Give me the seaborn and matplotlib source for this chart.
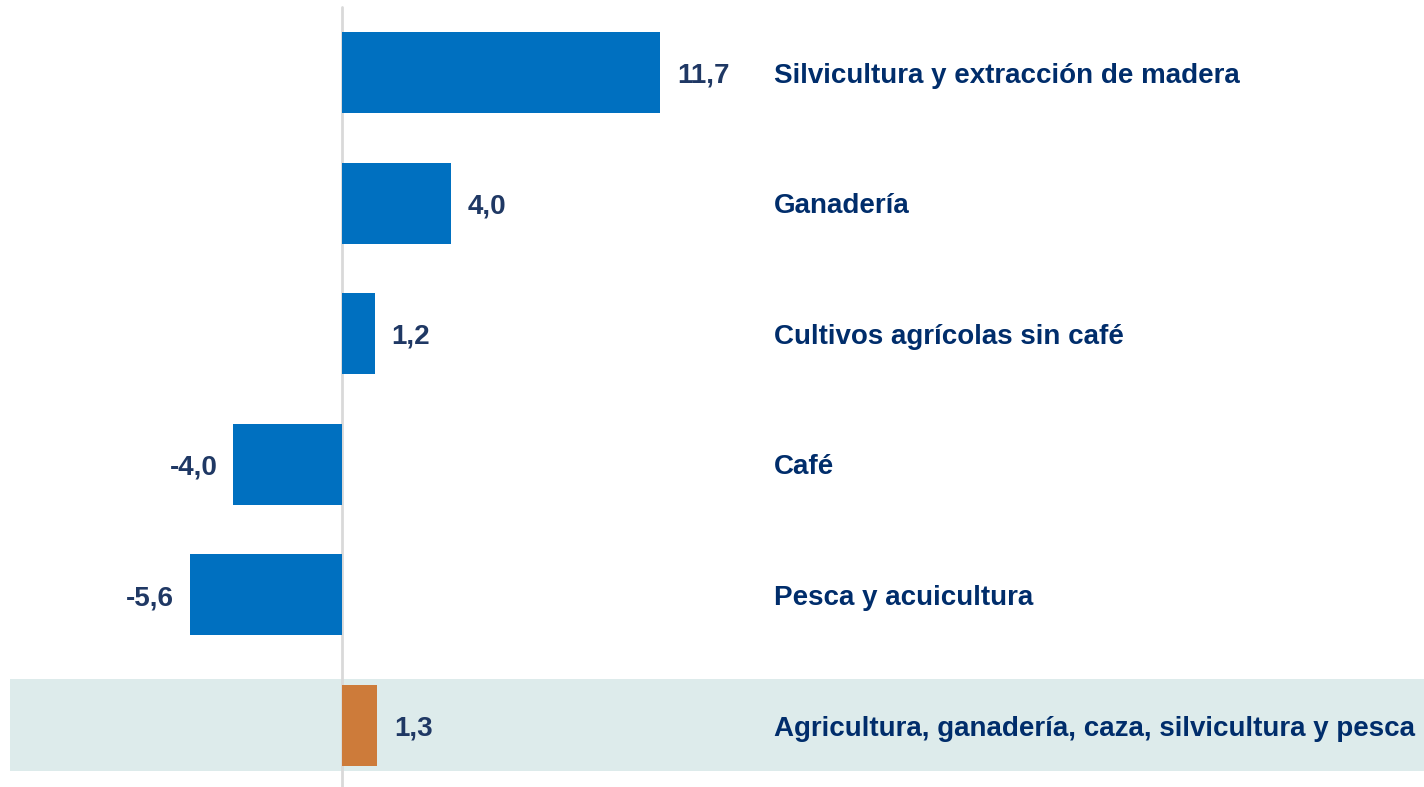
import matplotlib
matplotlib.use("Agg")
import matplotlib.pyplot as plt
import seaborn as sns
import pandas as pd

categories = [
    "Silvicultura y extracción de madera",
    "Ganadería",
    "Cultivos agrícolas sin café",
    "Café",
    "Pesca y acuicultura",
    "Agricultura, ganadería, caza, silvicultura y pesca",
]
values = [11.7, 4.0, 1.2, -4.0, -5.6, 1.3]
groups = ["sub", "sub", "sub", "sub", "sub", "total"]

BLUE = "#0070C0"
ORANGE = "#CD7B3A"
VAL_COLOR = "#1F3864"
CAT_COLOR = "#002D6B"
BAND = "#DDEBEB"

df = pd.DataFrame({"cat": categories, "val": values, "grp": groups})

sns.set_theme(style="white")
plt.rcParams["font.family"] = ["Liberation Sans", "DejaVu Sans"]

fig = plt.figure(figsize=(14.24, 7.87), dpi=100)
ax = fig.add_axes([0, 0, 1, 1])

# highlight band behind total row
ax.axhspan(5 - 0.356, 5 + 0.348, xmin=10 / 1424, xmax=1.0, color=BAND, zorder=0, lw=0)

sns.barplot(data=df, y="cat", x="val", hue="grp", palette={"sub": BLUE, "total": ORANGE},
            orient="h", width=0.62, dodge=False, legend=False, ax=ax, zorder=2,
            saturation=1, linewidth=0)

ax.axvline(0, ymin=0, ymax=1 - 7 / 787, color="#D9D9D9", lw=2, zorder=1)

ax.set_xlim(-342 / 27.18, (1424 - 342) / 27.18)
ax.set_ylim(5.471, -0.555)
ax.set_axis_off()

DY = -7.3  # points: put cap-height center on the bar center
for i, (c, v) in enumerate(zip(categories, values)):
    txt = f"{v:.1f}".replace(".", ",")
    if v >= 0:
        ax.annotate(txt, xy=(v, i), xytext=(12.3, DY), textcoords="offset points",
                    ha="left", va="baseline", fontsize=20, fontweight="bold", color=VAL_COLOR)
    else:
        ax.annotate(txt, xy=(v, i), xytext=(-11.5, DY), textcoords="offset points",
                    ha="right", va="baseline", fontsize=20, fontweight="bold", color=VAL_COLOR)
    ax.annotate(c, xy=(774 / 1424, i), xycoords=ax.get_yaxis_transform(),
                xytext=(0, DY), textcoords="offset points", ha="left", va="baseline",
                fontsize=20, fontweight="bold", color=CAT_COLOR)

fig.savefig("out.png", dpi=100, facecolor="white")
